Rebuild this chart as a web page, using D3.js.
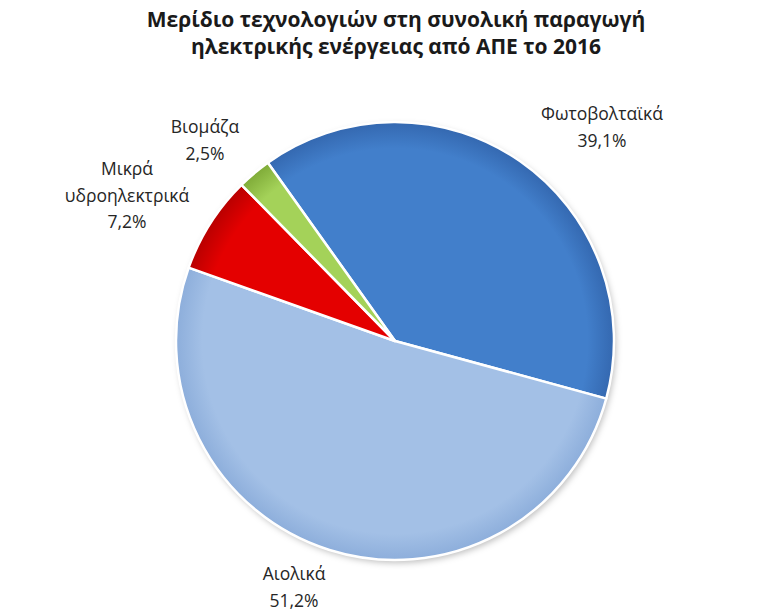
<!DOCTYPE html>
<html><head><meta charset="utf-8">
<script src="https://cdnjs.cloudflare.com/ajax/libs/d3/7.8.5/d3.min.js"></script>
<style>body{margin:0;background:#fff}svg{display:block}</style>
</head><body>
<script>
const titleLines = ["Μερίδιο τεχνολογιών στη συνολική παραγωγή", "ηλεκτρικής ενέργειας από ΑΠΕ το 2016"];
const categories = ["Φωτοβολταϊκά", "Αιολικά", "Μικρά υδροηλεκτρικά", "Βιομάζα"];
const values = [39.1, 51.2, 7.2, 2.5];
const labelLines = [["Φωτοβολταϊκά", "39,1%"], ["Αιολικά", "51,2%"], ["Μικρά", "υδροηλεκτρικά", "7,2%"], ["Βιομάζα", "2,5%"]];
const colors = [["#427FCB", "#3468B0"], ["#A3C0E6", "#8DAEDB"], ["#E40000", "#B80000"], ["#A4D259", "#7FAB38"]];

const W = 772, H = 613;
const cx = 395, cy = 341, R = 219;
const svg = d3.select("body").append("svg").attr("width", W).attr("height", H);
const defs = svg.append("defs");
colors.forEach((c, i) => {
  const g = defs.append("radialGradient").attr("id", "g" + i)
    .attr("gradientUnits", "userSpaceOnUse").attr("cx", 0).attr("cy", 0).attr("r", R);
  g.append("stop").attr("offset", "0%").attr("stop-color", c[0]);
  g.append("stop").attr("offset", "88%").attr("stop-color", c[0]);
  g.append("stop").attr("offset", "100%").attr("stop-color", c[1]);
});
const f = defs.append("filter").attr("id", "sh").attr("x", "-20%").attr("y", "-20%").attr("width", "140%").attr("height", "140%");
f.append("feDropShadow").attr("dx", 2).attr("dy", 3).attr("stdDeviation", 3).attr("flood-color", "#000").attr("flood-opacity", 0.25);

svg.append("g").selectAll("text").data(titleLines).join("text")
  .attr("x", 396).attr("y", (d, i) => 27 + i * 27)
  .attr("text-anchor", "middle")
  .attr("font-family", "'Open Sans', sans-serif").attr("font-weight", "bold")
  .attr("font-size", 21).attr("fill", "#1a1a1a").text(d => d);

const start = -35.5 * Math.PI / 180;
const pie = d3.pie().sort(null).startAngle(start).endAngle(start + 2 * Math.PI);
const arcs = pie(values);
const arc = d3.arc().innerRadius(0).outerRadius(R);
const gp = svg.append("g").attr("transform", `translate(${cx},${cy})`);
gp.append("circle").attr("r", R).attr("fill", "#fff").attr("filter", "url(#sh)");
gp.selectAll("path").data(arcs).join("path")
  .attr("d", arc).attr("fill", (d, i) => `url(#g${i})`)
  .attr("stroke", "#fff").attr("stroke-width", 2.5).attr("stroke-linejoin", "round");

const labelPos = [[602, 120], [294, 580], [127, 175], [205, 133]];
const gl = svg.append("g");
arcs.forEach((a, i) => {
  gl.append("g").selectAll("text").data(labelLines[i]).join("text")
    .attr("x", labelPos[i][0]).attr("y", (d, j) => labelPos[i][1] + j * 26.5)
    .attr("text-anchor", "middle")
    .attr("font-family", "'Open Sans', sans-serif").attr("font-size", 17.5)
    .attr("fill", "#262626").text(d => d);
});
</script>
</body></html>
